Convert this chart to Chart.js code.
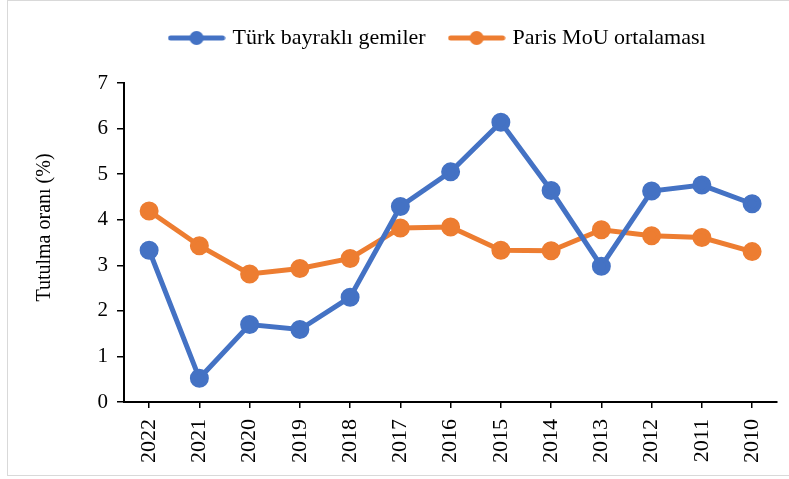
<!DOCTYPE html>
<html lang="tr">
<head>
    <meta charset="UTF-8">
    <title>Tutulma oranı</title>
    <script src="https://cdn.jsdelivr.net/npm/chart.js"></script>
    <style>
        body {
            margin: 0;
            background: #fff;
        }
        .frame {
            position: absolute;
            left: 7px;
            top: 0;
            width: 790px;
            height: 474px;
            border: 1px solid #d9d9d9;
        }
        canvas {
            display: block;
        }
    </style>
</head>
<body>
    <div class="frame">
        <canvas id="chart" width="782" height="474"></canvas>
    </div>

    <script>
        const years = ['2022', '2021', '2020', '2019', '2018', '2017', '2016', '2015', '2014', '2013', '2012', '2011', '2010'];
        const turkFlag = [3.33, 0.52, 1.70, 1.59, 2.30, 4.29, 5.05, 6.14, 4.64, 2.98, 4.63, 4.76, 4.35];
        const parisMou = [4.19, 3.43, 2.81, 2.93, 3.15, 3.82, 3.84, 3.33, 3.32, 3.78, 3.65, 3.61, 3.30];
        const yTicks = [0, 1, 2, 3, 4, 5, 6, 7];

        const blue = '#4472C4';
        const orange = '#ED7D31';
        const serif = "'Liberation Serif', 'Times New Roman', serif";

        // legend marker: line with a dot in the middle
        function legendMark(color) {
            const c = document.createElement('canvas');
            c.width = 58;
            c.height = 16;
            const g = c.getContext('2d');
            g.strokeStyle = color;
            g.lineWidth = 5;
            g.lineCap = 'round';
            g.beginPath();
            g.moveTo(3, 8);
            g.lineTo(55, 8);
            g.stroke();
            g.fillStyle = color;
            g.beginPath();
            g.arc(29, 8, 7, 0, Math.PI * 2);
            g.fill();
            return c;
        }
        const marks = [legendMark(blue), legendMark(orange)];

        // more room under the legend, and nudge it a bit to the left
        const legendGap = {
            id: 'legendGap',
            beforeInit(chart) {
                const fit = chart.legend.fit;
                chart.legend.fit = function () {
                    fit.call(this);
                    this.height += 24;
                };
            },
            afterLayout(chart) {
                chart.legend.left -= 12;
                chart.legend.right -= 12;
            }
        };

        new Chart(document.getElementById('chart'), {
            type: 'line',
            data: {
                labels: years,
                datasets: [{
                    label: 'Türk bayraklı gemiler',
                    data: turkFlag,
                    borderColor: blue,
                    backgroundColor: blue,
                    borderWidth: 5,
                    pointRadius: 7,
                    pointHoverRadius: 7,
                    tension: 0
                }, {
                    label: 'Paris MoU ortalaması',
                    data: parisMou,
                    borderColor: orange,
                    backgroundColor: orange,
                    borderWidth: 5,
                    pointRadius: 7,
                    pointHoverRadius: 7,
                    tension: 0
                }]
            },
            plugins: [legendGap],
            options: {
                responsive: false,
                animation: false,
                layout: {
                    padding: { left: 0, right: 8, top: 0, bottom: 0 }
                },
                plugins: {
                    tooltip: { enabled: false },
                    legend: {
                        position: 'top',
                        fullSize: false,
                        labels: {
                            usePointStyle: true,
                            pointStyleWidth: 50,
                            padding: 26,
                            color: '#000',
                            font: { family: serif, size: 22 },
                            generateLabels: chart => chart.data.datasets.map((ds, i) => ({
                                text: ds.label,
                                pointStyle: marks[i],
                                fillStyle: ds.borderColor,
                                strokeStyle: ds.borderColor,
                                lineWidth: 0,
                                datasetIndex: i
                            }))
                        }
                    }
                },
                scales: {
                    x: {
                        offset: true,
                        afterFit: axis => { axis.height = 73; },
                        grid: {
                            offset: false,
                            drawOnChartArea: false,
                            drawTicks: true,
                            tickLength: 6,
                            color: '#000',
                            lineWidth: 1.5
                        },
                        border: { color: '#000', width: 2 },
                        ticks: {
                            color: '#000',
                            minRotation: 90,
                            maxRotation: 90,
                            padding: 11,
                            font: { family: serif, size: 22 }
                        }
                    },
                    y: {
                        min: 0,
                        max: 7,
                        afterFit: axis => { axis.width = 116; },
                        afterBuildTicks: axis => {
                            axis.ticks = yTicks.map(v => ({ value: v }));
                        },
                        grid: {
                            drawOnChartArea: false,
                            drawTicks: true,
                            tickLength: 7,
                            color: '#000',
                            lineWidth: 1.5
                        },
                        border: { color: '#000', width: 2 },
                        ticks: {
                            color: '#000',
                            padding: 9,
                            font: { family: serif, size: 21 }
                        },
                        title: {
                            display: true,
                            // leading spaces lift the title a little, as in the original
                            text: '\u00A0\u00A0\u00A0\u00A0\u00A0\u00A0Tutulma oranı (%)',
                            color: '#000',
                            padding: { top: 25, bottom: 0 },
                            font: { family: serif, size: 20 }
                        }
                    }
                }
            }
        });
    </script>
</body>
</html>
